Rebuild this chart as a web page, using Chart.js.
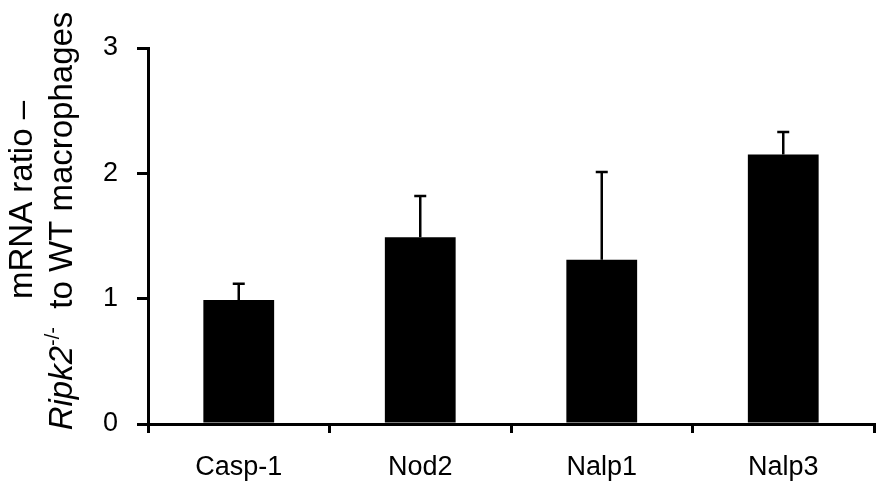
<!DOCTYPE html>
<html lang="en">
<head>
  <meta charset="UTF-8">
  <title>mRNA ratio</title>
  <script src="https://cdn.jsdelivr.net/npm/chart.js"></script>
  <style>
    body { margin: 0; background: #fff; }
    canvas { display: block; }
  </style>
</head>
<body>
  <canvas id="myChart" width="877" height="487"></canvas>
  <script>
    const categories = ['Casp-1', 'Nod2', 'Nalp1', 'Nalp3'];
    const ratios = [0.99, 1.49, 1.31, 2.15];
    const errors = [0.13, 0.33, 0.70, 0.18];
    const yTicks = [0, 1, 2, 3];

    const FONT = '"Liberation Sans", Arial, sans-serif';

    // upward-only error bars with a small cap
    const errorBars = {
      id: 'errorBars',
      afterDatasetsDraw(chart) {
        const ctx = chart.ctx;
        const y = chart.scales.y;
        const meta = chart.getDatasetMeta(0);
        ctx.save();
        ctx.strokeStyle = '#000';
        ctx.lineWidth = 2.5;
        meta.data.forEach((bar, i) => {
          const top = y.getPixelForValue(ratios[i] + errors[i]);
          ctx.beginPath();
          ctx.moveTo(bar.x, bar.y);
          ctx.lineTo(bar.x, top);
          ctx.moveTo(bar.x - 6, top);
          ctx.lineTo(bar.x + 6, top);
          ctx.stroke();
        });
        ctx.restore();
      }
    };

    // two-line rotated y title with italic gene name and superscript
    const yTitle = {
      id: 'yTitle',
      afterDraw(chart) {
        const ctx = chart.ctx;
        const size = 33;
        ctx.save();
        ctx.fillStyle = '#000';
        ctx.textBaseline = 'alphabetic';

        // line 1
        ctx.save();
        ctx.translate(32, 200);
        ctx.rotate(-Math.PI / 2);
        ctx.font = size + 'px ' + FONT;
        ctx.textAlign = 'center';
        ctx.fillText('mRNA ratio \u2013', 0, 0);
        ctx.restore();

        // line 2: Ripk2^-/- to WT macrophages
        const parts = [
          { t: 'Ripk2', font: 'italic ' + size + 'px ' + FONT, dy: 0 },
          { t: '-/-', font: Math.round(size * 0.6) + 'px ' + FONT, dy: -13 },
          { t: '  to WT macrophages', font: size + 'px ' + FONT, dy: 0 }
        ];
        let total = 0;
        parts.forEach(p => { ctx.font = p.font; p.w = ctx.measureText(p.t).width; total += p.w; });
        ctx.save();
        ctx.translate(72, 221);
        ctx.rotate(-Math.PI / 2);
        ctx.textAlign = 'left';
        let x = -total / 2;
        parts.forEach(p => {
          ctx.font = p.font;
          ctx.fillText(p.t, x, p.dy);
          x += p.w;
        });
        ctx.restore();
        ctx.restore();
      }
    };

    new Chart(document.getElementById('myChart'), {
      type: 'bar',
      data: {
        labels: categories,
        datasets: [{
          data: ratios,
          backgroundColor: '#000',
          borderWidth: 0,
          categoryPercentage: 1,
          barPercentage: 0.39
        }]
      },
      options: {
        responsive: false,
        animation: false,
        layout: { padding: { left: 96, right: 3, top: 48, bottom: 0 } },
        plugins: {
          legend: { display: false },
          tooltip: { enabled: false }
        },
        scales: {
          x: {
            afterFit(scale) { scale.height = 63; },
            grid: {
              offset: true,
              drawOnChartArea: false,
              drawTicks: true,
              tickLength: 9,
              color: '#000',
              lineWidth: 3
            },
            border: { display: true, color: '#000', width: 3 },
            ticks: {
              color: '#000',
              padding: 18,
              font: { family: FONT, size: 27 }
            }
          },
          y: {
            min: 0,
            max: 3,
            afterFit(scale) { scale.width = 52; },
            afterBuildTicks(scale) { scale.ticks = yTicks.map(v => ({ value: v })); },
            grid: {
              drawOnChartArea: false,
              drawTicks: true,
              tickLength: 11,
              color: '#000',
              lineWidth: 3
            },
            border: { display: true, color: '#000', width: 3 },
            ticks: {
              color: '#000',
              padding: 19,
              font: { family: FONT, size: 27 }
            }
          }
        }
      },
      plugins: [errorBars, yTitle]
    });
  </script>
</body>
</html>
